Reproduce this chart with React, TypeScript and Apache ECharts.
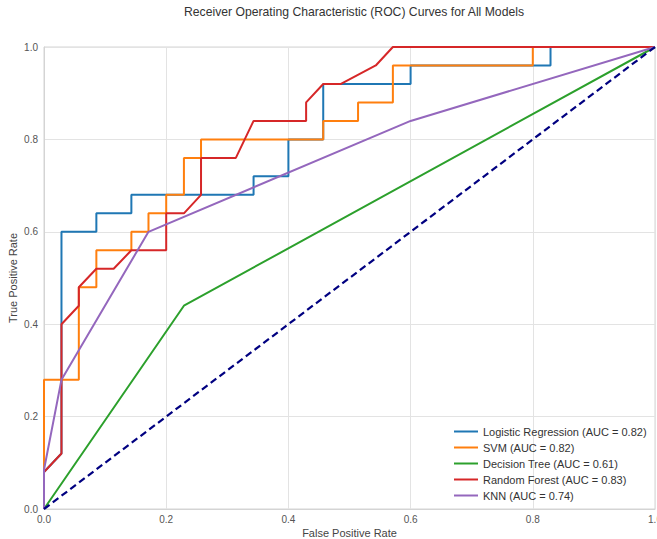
import React, { useEffect, useRef } from "react";
import * as echarts from "echarts";

const modelNames = [
  "Logistic Regression (AUC = 0.82)",
  "SVM (AUC = 0.82)",
  "Decision Tree (AUC = 0.61)",
  "Random Forest (AUC = 0.83)",
  "KNN (AUC = 0.74)",
];
const modelColors = ["#1f77b4", "#ff7f0e", "#2ca02c", "#d62728", "#9467bd"];

const lrFpr = [0, 0, 0.0286, 0.0286, 0.0857, 0.0857, 0.143, 0.143, 0.343, 0.343, 0.4, 0.4, 0.457, 0.457, 0.6, 0.6, 0.829, 0.829, 1];
const lrTpr = [0, 0.08, 0.12, 0.6, 0.6, 0.64, 0.64, 0.68, 0.68, 0.72, 0.72, 0.8, 0.8, 0.92, 0.92, 0.96, 0.96, 1, 1];

const svmFpr = [0, 0, 0.057, 0.057, 0.0857, 0.0857, 0.143, 0.143, 0.171, 0.171, 0.2, 0.2, 0.229, 0.229, 0.257, 0.257, 0.457, 0.457, 0.514, 0.514, 0.571, 0.571, 0.8, 0.8, 1];
const svmTpr = [0, 0.28, 0.28, 0.48, 0.48, 0.56, 0.56, 0.6, 0.6, 0.64, 0.64, 0.68, 0.68, 0.76, 0.76, 0.8, 0.8, 0.84, 0.84, 0.88, 0.88, 0.96, 0.96, 1, 1];

const dtFpr = [0, 0.229, 1];
const dtTpr = [0, 0.44, 1];

const rfFpr = [0, 0, 0.0286, 0.0286, 0.057, 0.057, 0.0857, 0.114, 0.143, 0.2, 0.2, 0.229, 0.257, 0.257, 0.314, 0.343, 0.429, 0.429, 0.457, 0.486, 0.543, 0.571, 1];
const rfTpr = [0, 0.08, 0.12, 0.4, 0.44, 0.48, 0.52, 0.52, 0.56, 0.56, 0.64, 0.64, 0.68, 0.76, 0.76, 0.84, 0.84, 0.88, 0.92, 0.92, 0.96, 1, 1];

const knnFpr = [0, 0, 0.0286, 0.171, 0.6, 1];
const knnTpr = [0, 0.085, 0.28, 0.6, 0.84, 1];

const chanceFpr = [0, 1];
const chanceTpr = [0, 1];

const tickValues = [0, 0.2, 0.4, 0.6, 0.8, 1.0];

const zip = (xs: number[], ys: number[]) => xs.map((x, i) => [x, ys[i]]);

const FONT = "Liberation Sans, Arial, sans-serif";

export default function App() {
  const ref = useRef<HTMLDivElement>(null);
  useEffect(() => {
    document.body.style.margin = "0";
    const chart = echarts.init(ref.current!, null, { renderer: "svg" });
    const curves = [
      zip(lrFpr, lrTpr),
      zip(svmFpr, svmTpr),
      zip(dtFpr, dtTpr),
      zip(rfFpr, rfTpr),
      zip(knnFpr, knnTpr),
    ];
    const axisCommon = {
      type: "value" as const,
      min: tickValues[0],
      max: tickValues[tickValues.length - 1],
      interval: 0.2,
      nameLocation: "middle" as const,
      nameMoveOverlap: false,
      nameTextStyle: { fontFamily: FONT, fontSize: 11, color: "#444" },
      axisLine: { show: true, lineStyle: { color: "#d4d4d4", width: 1 } },
      axisTick: { show: false },
      axisLabel: {
        fontFamily: FONT,
        fontSize: 10,
        color: "#555",
        formatter: (v: number) => v.toFixed(1),
      },
      splitLine: { show: true, lineStyle: { color: "#e3e3e3", width: 1 } },
    };
    chart.setOption({
      animation: false,
      backgroundColor: "#ffffff",
      title: {
        text: "Receiver Operating Characteristic (ROC) Curves for All Models",
        left: 349,
        textAlign: "center",
        top: 1,
        textStyle: { fontFamily: FONT, fontSize: 12.2, fontWeight: "normal", color: "#333" },
      },
      grid: {
        left: 44,
        right: 2,
        top: 47,
        bottom: 30,
        outerBoundsMode: "none",
        containLabel: false,
        show: true,
        borderColor: "#d4d4d4",
        borderWidth: 1,
      },
      xAxis: {
        ...axisCommon,
        name: "False Positive Rate",
        nameGap: 18,
        axisLabel: { ...axisCommon.axisLabel, margin: 5 },
      },
      yAxis: {
        ...axisCommon,
        name: "True Positive Rate",
        nameGap: 26,
        axisLabel: { ...axisCommon.axisLabel, margin: 6 },
      },
      legend: {
        data: modelNames,
        orient: "vertical",
        left: 449,
        top: 420,
        icon: "rect",
        itemWidth: 24,
        itemHeight: 2,
        itemGap: 3,
        textStyle: { fontFamily: FONT, fontSize: 11, color: "#333", lineHeight: 13 },
      },
      series: [
        ...curves.map((d, i) => ({
          name: modelNames[i],
          type: "line",
          data: d,
          showSymbol: false,
          symbol: "none",
          lineStyle: { color: modelColors[i], width: 2 },
          itemStyle: { color: modelColors[i] },
        })),
        {
          name: "chance",
          type: "line",
          data: zip(chanceFpr, chanceTpr),
          showSymbol: false,
          symbol: "none",
          lineStyle: { color: "#000080", width: 2.2, type: [7, 4] },
        },
      ],
    });
    return () => chart.dispose();
  }, []);
  return <div ref={ref} style={{ width: 657, height: 539 }} />;
}
